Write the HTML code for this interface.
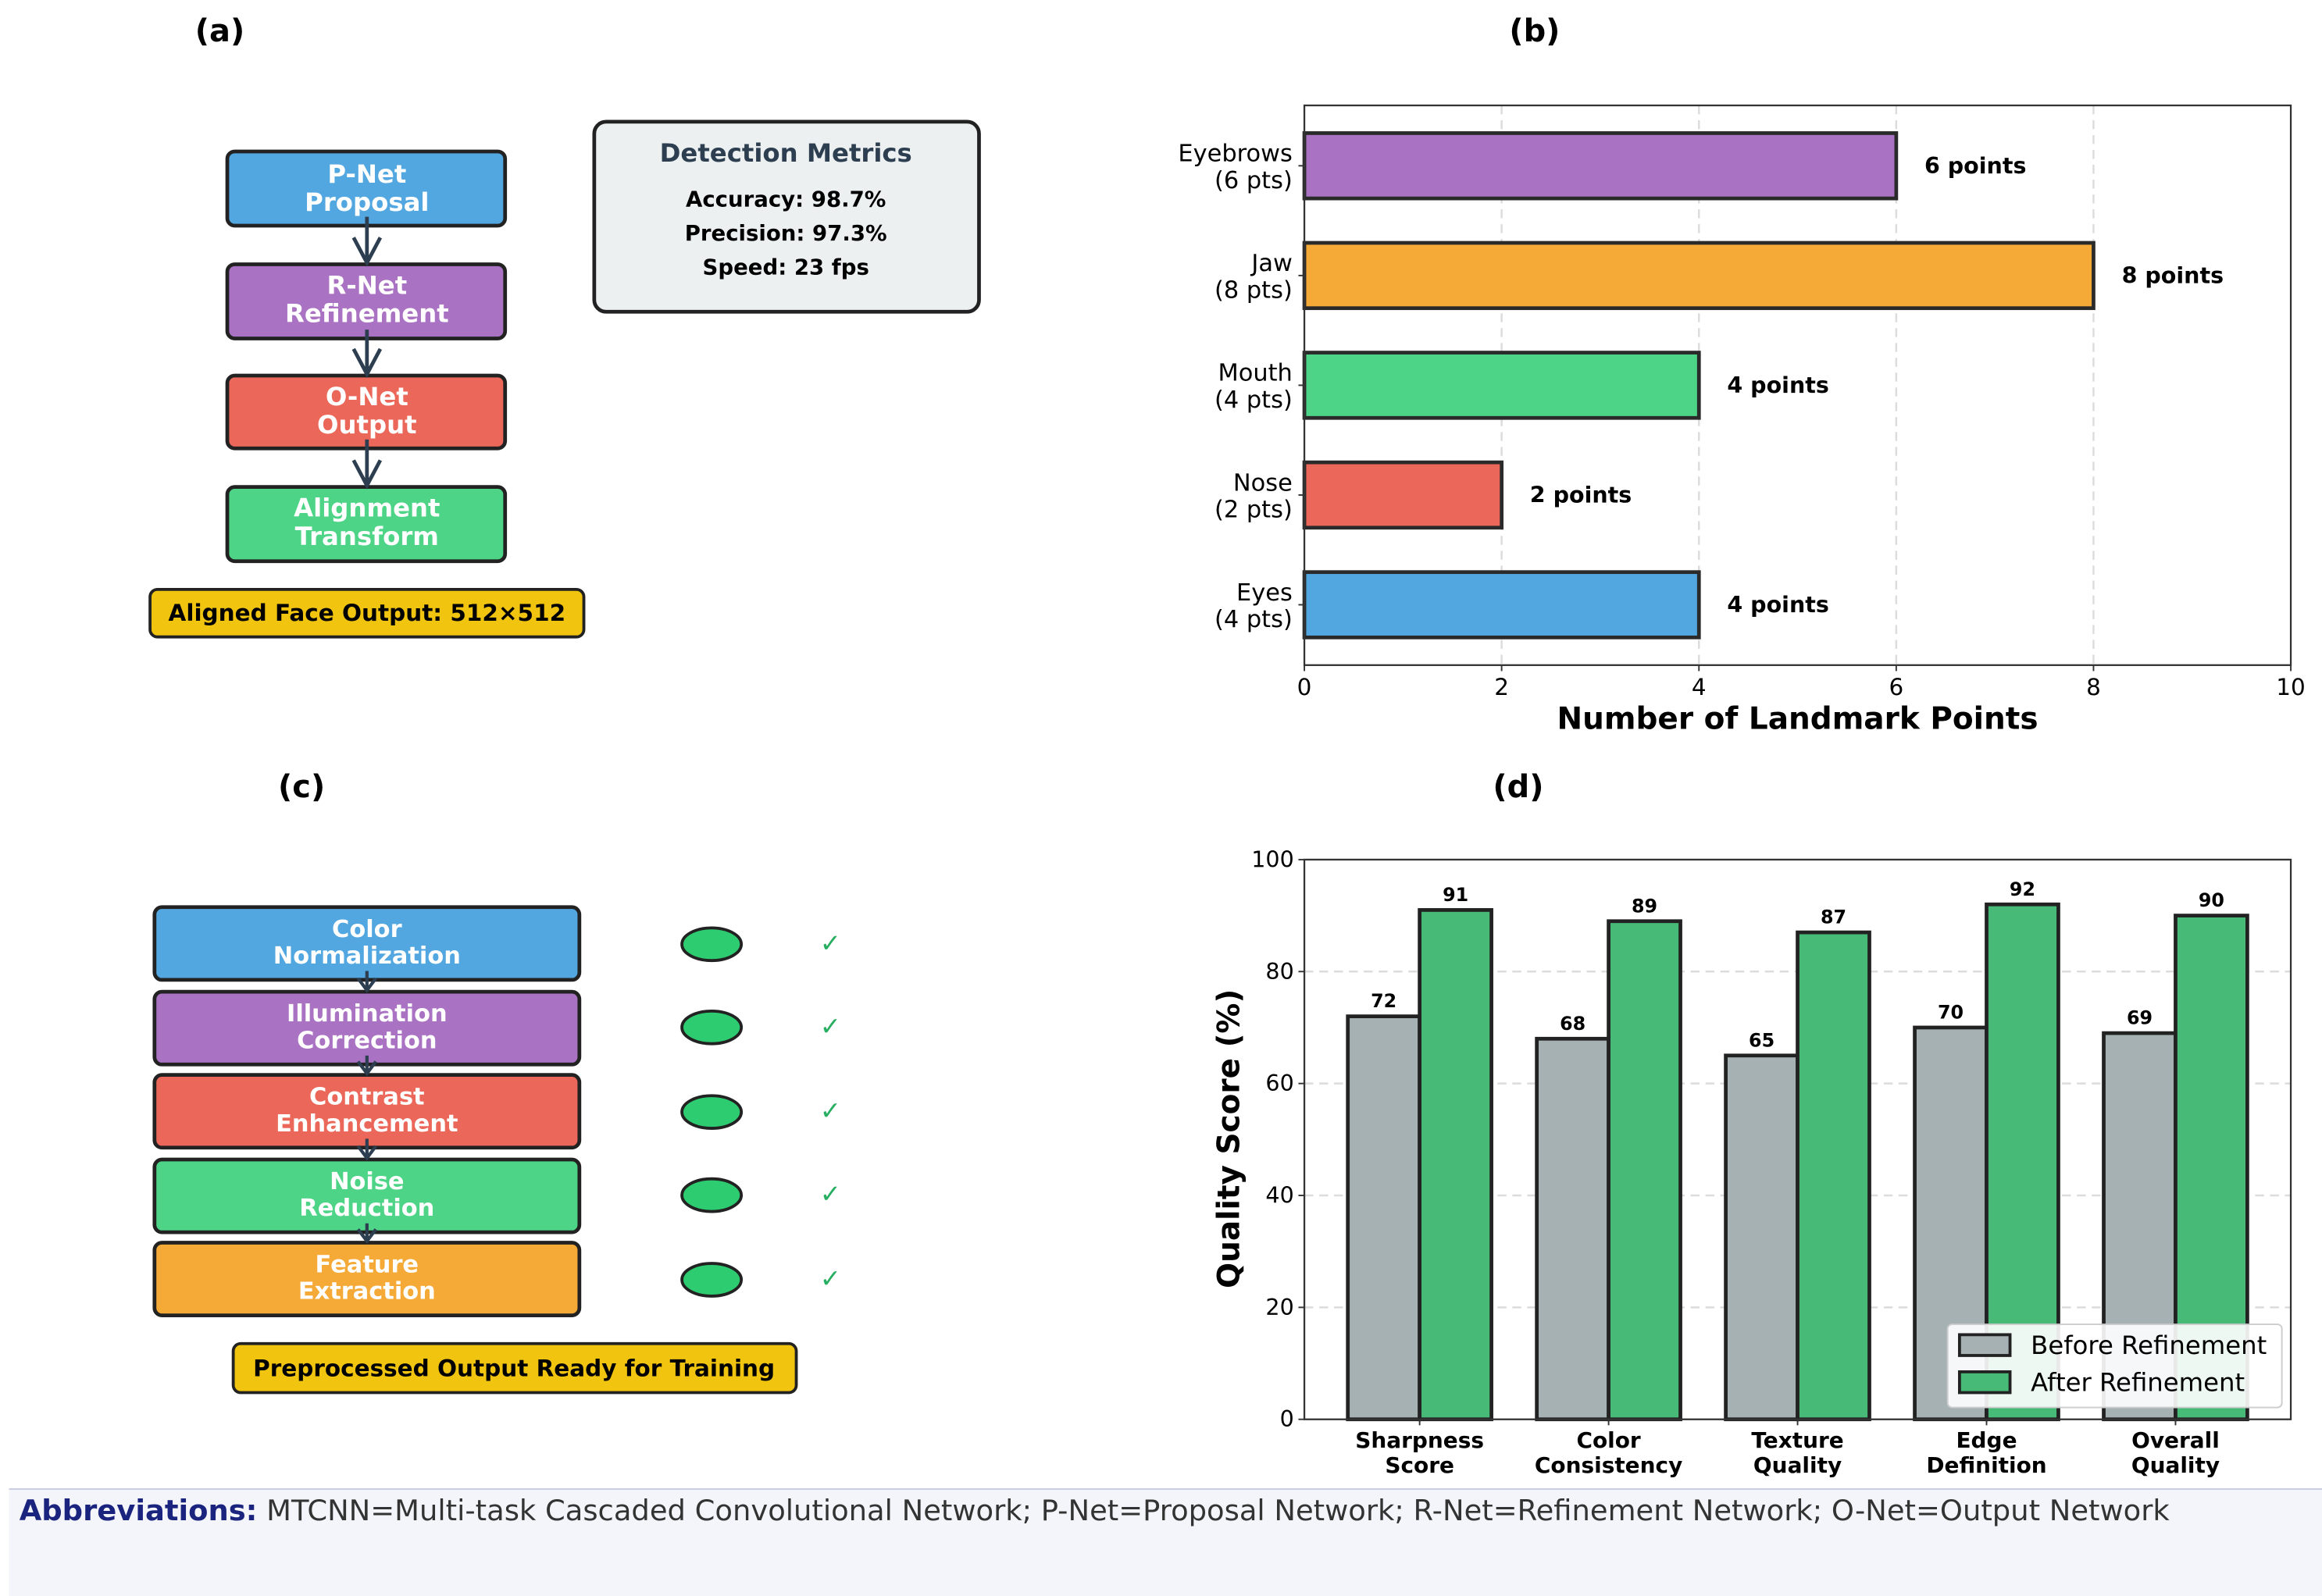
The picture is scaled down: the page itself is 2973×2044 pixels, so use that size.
<!DOCTYPE html>
<html><head><meta charset="utf-8"><style>
html,body{margin:0;padding:0;background:#fff}
svg{display:block;font-family:"DejaVu Sans","Liberation Sans",sans-serif}
</style></head><body>
<svg id="fig" width="2973" height="2044" viewBox="0 0 1563 1075" preserveAspectRatio="none" xmlns="http://www.w3.org/2000/svg">
<rect width="1563" height="1075" fill="#fff"/>
<!-- panel labels -->
<text x="148" y="28" font-size="21" font-weight="bold" text-anchor="middle">(a)</text>
<text x="1033" y="28" font-size="21" font-weight="bold" text-anchor="middle">(b)</text>
<text x="203" y="537" font-size="21" font-weight="bold" text-anchor="middle">(c)</text>
<text x="1022" y="537" font-size="21" font-weight="bold" text-anchor="middle">(d)</text>

<!-- panel a -->
<g font-weight="bold" text-anchor="middle" font-size="17" fill="#fff">
<rect x="153" y="102" width="187" height="50" rx="5" fill="#52a7e0" stroke="#222" stroke-width="2.5"/>
<text x="247" y="123">P-Net</text><text x="247" y="142">Proposal</text>
<rect x="153" y="178" width="187" height="50" rx="5" fill="#a972c2" stroke="#222" stroke-width="2.5"/>
<text x="247" y="198">R-Net</text><text x="247" y="217">Refinement</text>
<rect x="153" y="253" width="187" height="49" rx="5" fill="#eb6759" stroke="#222" stroke-width="2.5"/>
<text x="247" y="273">O-Net</text><text x="247" y="292">Output</text>
<rect x="153" y="328" width="187" height="50" rx="5" fill="#4dd486" stroke="#222" stroke-width="2.5"/>
<text x="247" y="348">Alignment</text><text x="247" y="367">Transform</text>
<g fill="none" stroke="#2c3e50" stroke-width="2.5">
<path d="M247,146 L247,177 M238,160 L247,177 L256,160"/>
<path d="M247,222 L247,252 M238,235 L247,252 L256,235"/>
<path d="M247,296 L247,327 M238,310 L247,327 L256,310"/>
</g>
<rect x="101" y="397" width="292" height="32" rx="5" fill="#f1c40f" stroke="#222" stroke-width="2"/>
<text x="247" y="418" fill="#000" font-size="15.5">Aligned Face Output: 512×512</text>
</g>
<g font-weight="bold" text-anchor="middle">
<rect x="400" y="82" width="259" height="128" rx="8" fill="#ecf0f1" stroke="#222" stroke-width="2.5"/>
<text x="529" y="109" font-size="17" fill="#2c3e50">Detection Metrics</text>
<text x="529" y="139" font-size="14.5">Accuracy: 98.7%</text>
<text x="529" y="162" font-size="14.5">Precision: 97.3%</text>
<text x="529" y="185" font-size="14.5">Speed: 23 fps</text>
</g>

<!-- panel c -->
<g font-weight="bold" text-anchor="middle" font-size="16" fill="#fff">
<rect x="104" y="611" width="286" height="49" rx="5" fill="#52a7e0" stroke="#222" stroke-width="2.5"/>
<text x="247" y="631">Color</text><text x="247" y="649">Normalization</text>
<rect x="104" y="668" width="286" height="49" rx="5" fill="#a972c2" stroke="#222" stroke-width="2.5"/>
<text x="247" y="688">Illumination</text><text x="247" y="706">Correction</text>
<rect x="104" y="724" width="286" height="49" rx="5" fill="#eb6759" stroke="#222" stroke-width="2.5"/>
<text x="247" y="744">Contrast</text><text x="247" y="762">Enhancement</text>
<rect x="104" y="781" width="286" height="49" rx="5" fill="#4dd486" stroke="#222" stroke-width="2.5"/>
<text x="247" y="801">Noise</text><text x="247" y="819">Reduction</text>
<rect x="104" y="837" width="286" height="49" rx="5" fill="#f5a936" stroke="#222" stroke-width="2.5"/>
<text x="247" y="857">Feature</text><text x="247" y="875">Extraction</text>
<g fill="none" stroke="#2c3e50" stroke-width="2.2">
<path d="M247,654 L247,667 M241,659 L247,667 L253,659"/>
<path d="M247,711 L247,723 M241,715 L247,723 L253,715"/>
<path d="M247,767 L247,780 M241,772 L247,780 L253,772"/>
<path d="M247,824 L247,836 M241,828 L247,836 L253,828"/>
</g>
<g fill="#2ecc71" stroke="#222" stroke-width="2">
<ellipse cx="479" cy="636" rx="20" ry="11"/><ellipse cx="479" cy="692" rx="20" ry="11"/>
<ellipse cx="479" cy="749" rx="20" ry="11"/><ellipse cx="479" cy="805" rx="20" ry="11"/>
<ellipse cx="479" cy="862" rx="20" ry="11"/>
</g>
<g fill="#27ae60" font-weight="normal" font-size="17">
<text x="559" y="641">✓</text><text x="559" y="697">✓</text><text x="559" y="754">✓</text><text x="559" y="810">✓</text><text x="559" y="867">✓</text>
</g>
<rect x="157" y="905" width="379" height="33" rx="5" fill="#f1c40f" stroke="#222" stroke-width="2"/>
<text x="346" y="927" fill="#000" font-size="15.5">Preprocessed Output Ready for Training</text>
</g>

<g id="chartB"></g>
<g id="chartD"></g>

<!-- footer -->
<g>
<rect x="6" y="1003" width="1557" height="72" fill="#f4f5fa"/>
<line x1="6" y1="1003" x2="1563" y2="1003" stroke="#c8cbe0" stroke-width="1"/>
<text x="13" y="1024" font-size="19.4" fill="#333"><tspan font-weight="bold" fill="#1a237e">Abbreviations:</tspan> MTCNN=Multi-task Cascaded Convolutional Network; P-Net=Proposal Network; R-Net=Refinement Network; O-Net=Output Network</text>
</g>
</svg>
<script>
const NS="http://www.w3.org/2000/svg";
// Panel b data
const bCategories=["Eyes\n(4 pts)","Nose\n(2 pts)","Mouth\n(4 pts)","Jaw\n(8 pts)","Eyebrows\n(6 pts)"];
const bValues=[4,2,4,8,6];
const bColors=["#52a7e0","#eb6759","#4dd486","#f5a936","#a972c2"];
const bTicks=[0,2,4,6,8,10];
// Panel d data
const dCategories=["Sharpness\nScore","Color\nConsistency","Texture\nQuality","Edge\nDefinition","Overall\nQuality"];
const dBefore=[72,68,65,70,69];
const dAfter=[91,89,87,92,90];
const dTicks=[0,20,40,60,80,100];

function mk(tag,attrs,parent,txt){const e=document.createElementNS(NS,tag);for(const k in attrs)e.setAttribute(k,attrs[k]);if(txt!==undefined)e.textContent=txt;parent.appendChild(e);return e;}

// ---- chart B ----
(function(){
const g=document.getElementById('chartB');
const L=878,R=1542,T=71,B=448;
const x=v=>L+(v-0)/(10-0)*(R-L);
const yc=i=>{const lo=-0.55,hi=4.55;return B-(i-lo)/(hi-lo)*(B-T);};
bTicks.forEach(t=>{
 if(t>0&&t<10){const gl=mk('line',{x1:x(t),x2:x(t),y1:T,y2:B,stroke:'#dcdcdc','stroke-width':1.3,'stroke-dasharray':'6,4'},g);
 }
 mk('line',{x1:x(t),x2:x(t),y1:B,y2:B+4,stroke:'#333'},g);
 const tl=mk('text',{x:x(t),y:B+20,'font-size':15.5,'text-anchor':'middle'},g,String(t));
 
});
const bh=44;
bCategories.forEach((c,i)=>{
 const cy=yc(i);
 const r=mk('rect',{x:x(0),y:cy-bh/2,width:x(bValues[i])-x(0),height:bh,fill:bColors[i],stroke:'#2a2a2a','stroke-width':2.5},g);
 
 const vl=mk('text',{x:x(bValues[i])+19,y:cy+5,'font-size':15,'font-weight':'bold'},g,bValues[i]+' points');
 
 const parts=c.split('\n');
 mk('line',{x1:L-4,x2:L,y1:cy,y2:cy,stroke:'#333'},g);
 const t1=mk('text',{x:L-8,y:cy-3,'font-size':16,'text-anchor':'end'},g,parts[0]);
 
 const t2=mk('text',{x:L-8,y:cy+15,'font-size':16,'text-anchor':'end'},g,parts[1]);
 
});
const fr=mk('rect',{x:L,y:T,width:R-L,height:B-T,fill:'none',stroke:'#333','stroke-width':1.2},g);

const xl=mk('text',{x:(L+R)/2,y:491,'font-size':20.5,'font-weight':'bold','text-anchor':'middle'},g,'Number of Landmark Points');

})();

// ---- chart D ----
(function(){
const g=document.getElementById('chartD');
const L=878,R=1542,T=579,B=956;
const lo=-0.61,hi=4.61;
const x=v=>L+(v-lo)/(hi-lo)*(R-L);
const y=v=>B-v/100*(B-T);
const w=0.38;
dTicks.forEach(t=>{
 if(t>0&&t<100){const gl=mk('line',{x1:L,x2:R,y1:y(t),y2:y(t),stroke:'#dcdcdc','stroke-width':1.3,'stroke-dasharray':'6,4'},g);
 }
 mk('line',{x1:L-4,x2:L,y1:y(t),y2:y(t),stroke:'#333'},g);
 const tl=mk('text',{x:L-7,y:y(t)+5,'font-size':15,'text-anchor':'end'},g,String(t));
 
});
dCategories.forEach((c,i)=>{
 const b=mk('rect',{x:x(i-w),y:y(dBefore[i]),width:x(w)-x(0),height:y(0)-y(dBefore[i]),fill:'#a5b1b2',stroke:'#222','stroke-width':2.5},g);
 
 const a=mk('rect',{x:x(i),y:y(dAfter[i]),width:x(w)-x(0),height:y(0)-y(dAfter[i]),fill:'#47ba78',stroke:'#222','stroke-width':2.5},g);
 
 const v1=mk('text',{x:x(i-w/2),y:y(dBefore[i])-6,'font-size':12.5,'font-weight':'bold','text-anchor':'middle'},g,String(dBefore[i]));
 
 const v2=mk('text',{x:x(i+w/2),y:y(dAfter[i])-6,'font-size':12.5,'font-weight':'bold','text-anchor':'middle'},g,String(dAfter[i]));
 
 mk('line',{x1:x(i),x2:x(i),y1:B,y2:B+4,stroke:'#333'},g);
 const p=c.split('\n');
 const t1=mk('text',{x:x(i),y:B+19,'font-size':14.7,'font-weight':'bold','text-anchor':'middle'},g,p[0]);
 
 const t2=mk('text',{x:x(i),y:B+36,'font-size':14.7,'font-weight':'bold','text-anchor':'middle'},g,p[1]);
 
});
const fr=mk('rect',{x:L,y:T,width:R-L,height:B-T,fill:'none',stroke:'#333','stroke-width':1.2},g);

const yl=mk('text',{x:0,y:0,'font-size':20.5,'font-weight':'bold','text-anchor':'middle',transform:'translate(834,767) rotate(-90)'},g,'Quality Score (%)');

const lg=mk('g',{},g);

mk('rect',{x:1311,y:892,width:225,height:56,rx:3,fill:'#fff','fill-opacity':0.9,stroke:'#ccc'},lg);
mk('rect',{x:1319,y:899,width:34,height:14,fill:'#a5b1b2',stroke:'#222','stroke-width':2},lg);
mk('rect',{x:1319,y:924,width:34,height:14,fill:'#47ba78',stroke:'#222','stroke-width':2},lg);
const le1=mk('text',{x:1367,y:912,'font-size':17},lg,'Before Refinement');

const le2=mk('text',{x:1367,y:937,'font-size':17},lg,'After Refinement');

})();
</script>
</body></html>
